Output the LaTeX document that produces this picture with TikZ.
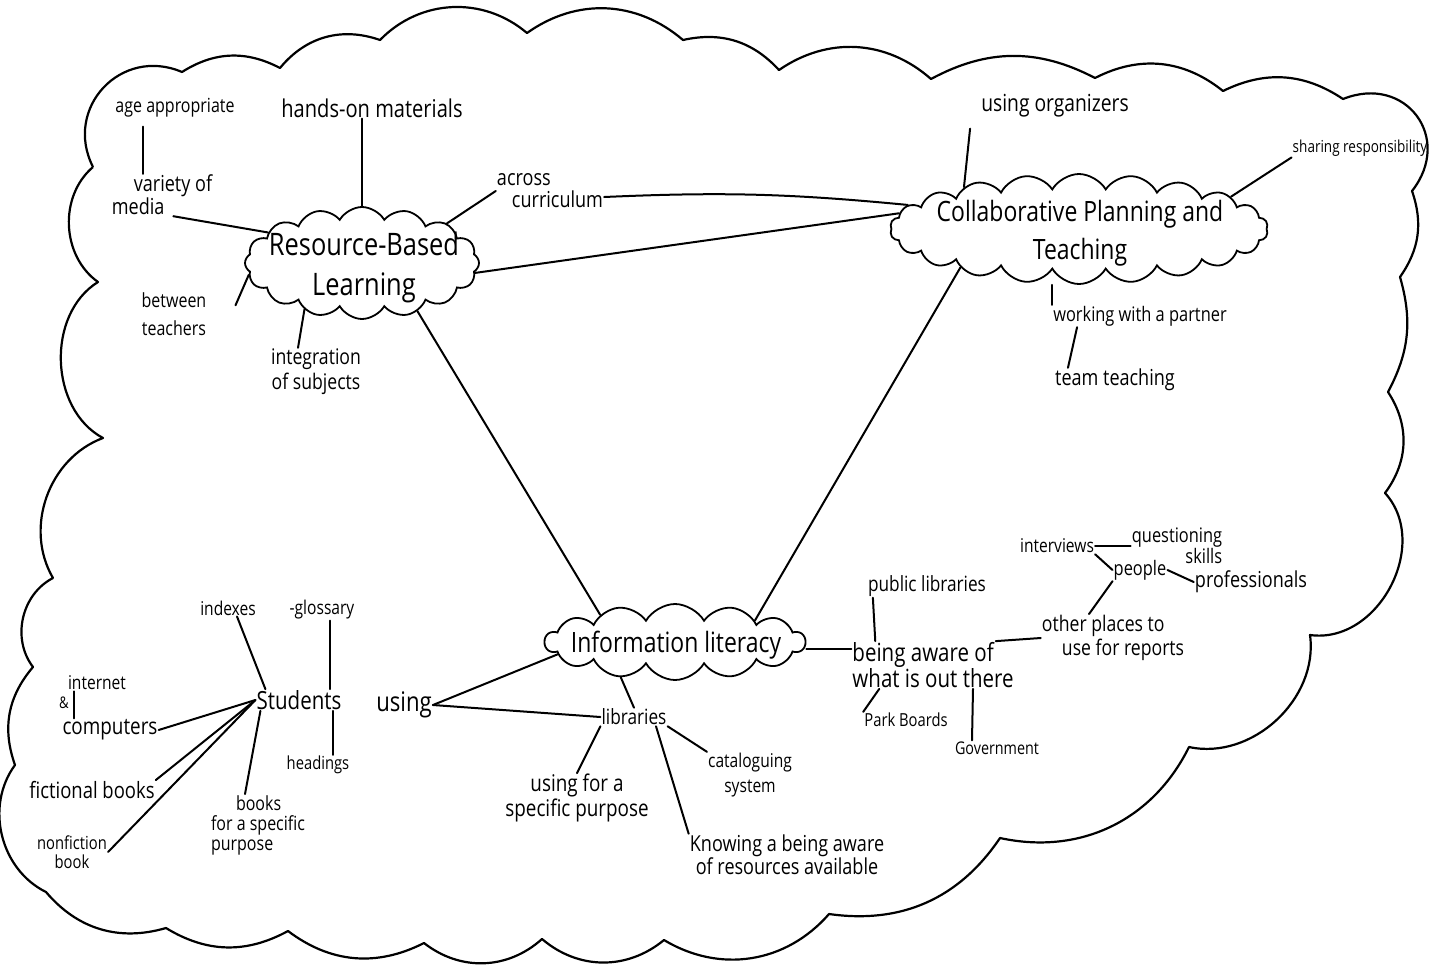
\documentclass[tikz,border=0pt]{standalone}
\usepackage{fontspec}
\newfontfamily\handfont{Open Sans}[FakeStretch=0.82]
\newcommand\hsz[2]{\handfont\fontsize{#1}{#2}\selectfont}
\usetikzlibrary{shapes.symbols}

\begin{document}
\begin{tikzpicture}[x=1pt,y=-1pt]

  %Styles for picture
  \tikzset
  {
  lbl/.style={inner sep=1pt, align=center, font=\hsz{20}{23}},
  smalllbl/.style={lbl, font=\hsz{17.5}{20}},
  biglbl/.style={lbl, font=\hsz{24.5}{26}},
  topic/.style={cloud, draw, line width=1.8pt, cloud puffs=16, cloud puff arc=120, cloud ignores aspect, inner sep=0pt},
  topictext/.style={inner sep=0pt, align=center},
  joinline/.style={line width=2pt, line cap=round},
  bigcloud/.style={line width=2.2pt, line join=round},
  }

  \path[use as bounding box, fill=white] (0,0) rectangle (1445,972);

  %Outer cloud
  \draw[bigcloud] (93,167) to[bend left=70, looseness=1.3] (182,72) to[bend left=30] (280,68)
    to[bend left=35] (380,40) to[bend left=43] (527,33) to[bend left=38] (683,40)
    to[bend left=30] (779,70) to[bend left=38] (931,79) to[bend left=28] (1095,78)
    to[bend left=33] (1223,91) to[bend left=30] (1343,99) to[bend left=75, looseness=1.5] (1412,191)
    to[bend left=27] (1400,277) to[bend left=22] (1388,392) to[bend left=35] (1385,493)
    to[bend left=70, looseness=1.1] (1310,635) to[bend left=55] (1189,747) to[bend left=38] (1000,838)
    to[bend left=32] (829,914) to[bend left=40] (664,940) to[bend left=40] (542,939)
    to[bend left=40] (424,943) to[bend left=32] (288,931) to[bend left=30] (166,928)
    to[bend left=33] (46,892) to[bend left=50] (15,765) to[bend left=30] (33,667)
    to[bend left=50] (53,578) to[bend left=50] (103,438) to[bend left=60] (98,282)
    to[bend left=52] (93,167);

  %Nodes
  \node[topic, minimum width=234pt, minimum height=112pt] (rbl) at (362,263) {};
  \node[topictext, font=\hsz{31}{40}] (rbltext) at (364,267) {Resource-Based\\Learning};
  \node[topic, cloud puffs=22, minimum width=378pt, minimum height=110pt] (cpt) at (1079,229) {};
  \node[topictext, font=\hsz{28}{38}] (cpttext) at (1080,233) {Collaborative Planning and\\Teaching};
  \node[topic, cloud puffs=14, minimum width=260pt, minimum height=76pt] (il) at (675,642) {};
  \node[topictext, font=\hsz{28}{30}] (iltext) at (676,645) {Information literacy};

  \node[smalllbl, font=\hsz{19.5}{20}] (agea) at (175,108) {age appropriate};
  \node[biglbl] (hands) at (372,108) {hands-on materials};
  \node[lbl, align=left, font=\hsz{22}{23}] (variety) at (162,195) {\hspace*{22pt}variety of\\media};
  \node[lbl, align=left, font=\hsz{22}{22}] (across) at (550,191) {across\\\hspace*{15pt}curriculum};
  \node[lbl, font=\hsz{19.5}{28}] (between) at (174,314) {between\\teachers};
  \node[lbl, font=\hsz{21.5}{25}] (integ) at (316,372) {integration\\of subjects};
  \node[lbl, font=\hsz{23.5}{24}] (usingorg) at (1055,106) {using organizers};
  \node[lbl, font=\hsz{16.5}{18}] (sharing) at (1360,148) {sharing responsibility};
  \node[lbl] (working) at (1140,316) {working with a partner};
  \node[lbl, font=\hsz{22}{24}] (team) at (1115,380) {team teaching};

  \node[smalllbl, font=\hsz{19}{20}] (interviews) at (1057,546) {interviews};
  \node[lbl, align=right, font=\hsz{20}{17}] (question) at (1177,546) {questioning\\skills};
  \node[lbl] (people) at (1140,570) {people};
  \node[lbl, font=\hsz{22}{22}] (profs) at (1251,582) {professionals};
  \node[smalllbl, font=\hsz{21}{20}] (publib) at (927,586) {public libraries};
  \node[lbl, align=left, font=\hsz{21.5}{24}] (other) at (1113,638) {other places to\\\hspace*{20pt}use for reports};
  \node[lbl, align=left, font=\hsz{25}{22}] (aware) at (933,665) {being aware of\\what is out there};
  \node[smalllbl, font=\hsz{18}{20}] (park) at (906,720) {Park Boards};
  \node[smalllbl, font=\hsz{17.5}{20}] (govt) at (997,748) {Government};

  \node[lbl, font=\hsz{21}{22}] (libs) at (634,717) {libraries};
  \node[lbl, font=\hsz{23}{23}] (usingfor) at (577,798) {using for a\\specific purpose};
  \node[smalllbl, font=\hsz{19}{25}] (catal) at (750,775) {cataloguing\\system};
  \node[lbl, font=\hsz{22}{21}] (knowing) at (787,855) {Knowing a being aware\\of resources available};

  \node[lbl, font=\hsz{25}{26}] (students) at (299,700) {Students};
  \node[lbl, font=\hsz{27}{28}] (using) at (404,705) {using};
  \node[smalllbl, font=\hsz{19}{20}] (indexes) at (228,608) {indexes};
  \node[smalllbl, font=\hsz{19}{20}] (glossary) at (322,610) {-glossary};
  \node[smalllbl, font=\hsz{19}{20}] (internet) at (97,683) {internet};
  \node[smalllbl, font=\hsz{16}{18}] (amp) at (64,703) {\&};
  \node[lbl, font=\hsz{23}{24}] (computers) at (110,730) {computers};
  \node[smalllbl, font=\hsz{18}{20}] (headings) at (318,765) {headings};
  \node[lbl, font=\hsz{22.5}{22}] (fiction) at (92,790) {fictional books};
  \node[smalllbl, align=left, font=\hsz{19.5}{20}] (books) at (258,825) {\hspace*{25pt}books\\for a specific\\purpose};
  \node[smalllbl, font=\hsz{18}{19}] (nonfic) at (72,852) {nonfiction\\book};

  %Edges
  \draw[joinline] (rbl.-5) -- (cpt.175);
  \draw[joinline] ([yshift=-6pt]across.east) to[bend left=4] (cpt.172);
  \draw[joinline] (across.west) -- (rbl.25);
  \draw[joinline] (rbl.-41) -- (il.160);
  \draw[joinline] (cpt.198) -- (il.15);

  \draw[joinline] (hands.south -| rbl.north) -- (rbl.north);
  \draw[joinline, shorten <=8pt] ([xshift=-32pt]agea.south) -- ([xshift=-32pt]agea.south |- variety.north);
  \draw[joinline] ([xshift=-40pt]variety.south east) -- (rbl.162);
  \draw[joinline] (rbl.186) -- ([xshift=28pt,yshift=-14pt]between.north east);
  \draw[joinline] (rbl.219) -- ([xshift=-18pt]integ.north);

  \draw[joinline] (cpt.160) -- ([xshift=-10pt,yshift=-10pt]usingorg.south west);
  \draw[joinline] (cpt.12) -- (sharing.south west);
  \draw[joinline] (cpt.south -| working.north west) -- (working.north west);
  \draw[joinline] ([xshift=25pt]working.south west) -- ([xshift=14pt]team.north west);

  \draw[joinline] ([yshift=-7pt]il.east) -- ([yshift=-7pt]il.east -| aware.west);
  \draw[joinline] ([xshift=6pt]publib.south west) -- ([xshift=24pt]aware.north west);
  \draw[joinline] ([xshift=28pt]aware.south west) -- (park.north west);
  \draw[joinline] ([xshift=40pt]aware.south) -- ([xshift=-25pt]govt.north);
  \draw[joinline] ([xshift=-19pt]aware.north east) -- (other.west);
  \draw[joinline] ([xshift=-24pt]other.north) -- (people.south west);
  \draw[joinline] (people.west) -- (interviews.south east);
  \draw[joinline] (interviews.east) -- (question.west);
  \draw[joinline] (people.east) -- (profs.west);

  \draw[joinline] (il.213) -- (libs.north);
  \draw[joinline] (libs.south west) -- (usingfor.north);
  \draw[joinline] ([xshift=22pt]libs.south) -- (knowing.north west);
  \draw[joinline] (libs.south east) -- (catal.north west);

  \draw[joinline] (using.east) -- (il.186);
  \draw[joinline] (using.east) -- (libs.west);
  \draw[joinline] ([xshift=10pt]students.north west) -- ([xshift=9pt]indexes.south);
  \draw[joinline] ([xshift=8pt]glossary.south) -- ([xshift=8pt]glossary.south |- students.north);
  \draw[joinline] ([xshift=15pt]headings.north) -- ([xshift=15pt]headings.north |- students.south);
  \draw[joinline] (students.west) -- (computers.east);
  \draw[joinline] (students.west) -- (fiction.north east);
  \draw[joinline] (students.west) -- (nonfic.east);
  \draw[joinline] ([xshift=5pt]students.south west) -- ([xshift=-13pt]books.north);
  \draw[joinline] ([xshift=-23pt]internet.south) -- ([xshift=-23pt]internet.south |- computers.north);
\end{tikzpicture}
\end{document}
